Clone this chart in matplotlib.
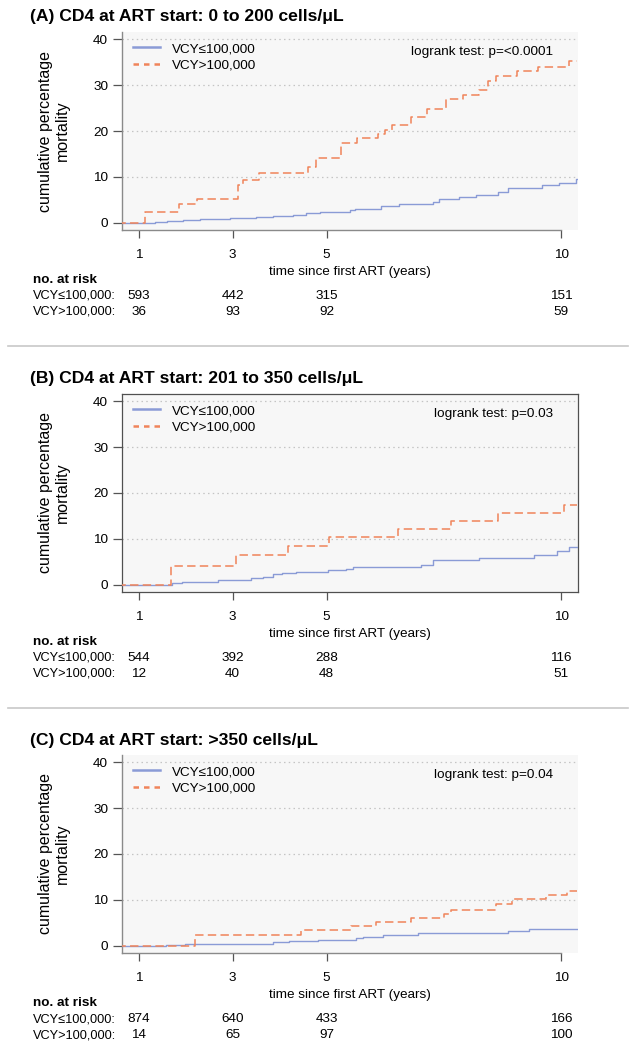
import matplotlib
matplotlib.use('Agg')
import matplotlib.pyplot as plt
from matplotlib.lines import Line2D
from matplotlib import transforms

plt.rcParams['font.family'] = ['Liberation Sans', 'DejaVu Sans']

# ---------------- data ----------------
groups = ['VCY≤100,000', 'VCY>100,000']
panel_titles = ['(A) CD4 at ART start: 0 to 200 cells/μL',
                '(B) CD4 at ART start: 201 to 350 cells/μL',
                '(C) CD4 at ART start: >350 cells/μL']
pvalue_texts = ['logrank test: p=<0.0001', 'logrank test: p=0.03', 'logrank test: p=0.04']

risk_times = [1, 3, 5, 10]
risk_low_A = [593, 442, 315, 151]
risk_high_A = [36, 93, 92, 59]
risk_low_B = [544, 392, 288, 116]
risk_high_B = [12, 40, 48, 51]
risk_low_C = [874, 640, 433, 166]
risk_high_C = [14, 65, 97, 100]

A_low_t = [0, 1.34, 1.59, 1.94, 2.30, 2.94, 3.50, 3.86, 4.28, 4.57, 4.85, 5.49, 5.60,
           6.16, 6.55, 7.26, 7.40, 7.83, 8.18, 8.65, 8.86, 9.60, 9.96, 10.31, 10.34]
A_low_v = [0, 0.15, 0.35, 0.6, 0.8, 1.1, 1.3, 1.45, 1.75, 2.1, 2.35, 2.7, 3.06,
           3.6, 4.15, 4.45, 5.1, 5.6, 6.1, 6.7, 7.5, 8.15, 8.75, 9.5, 9.5]
A_high_t = [0, 1.14, 1.85, 2.23, 3.11, 3.22, 3.55, 4.60, 4.78, 5.30, 5.65, 6.10, 6.25,
            6.40, 6.80, 7.15, 7.55, 7.90, 8.25, 8.45, 8.62, 9.07, 9.50, 10.17, 10.34]
A_high_v = [0, 2.3, 4.0, 5.2, 8.2, 9.2, 10.9, 12.1, 14.0, 17.4, 18.4, 19.3, 20.3,
            21.2, 23.0, 24.9, 26.9, 27.9, 29.0, 31.0, 32.0, 33.0, 34.0, 35.2, 35.2]

B_low_t = [0, 1.70, 1.91, 2.69, 3.0, 3.40, 3.65, 3.86, 4.04, 4.35, 5.03, 5.42, 5.56,
           7.01, 7.26, 8.26, 9.43, 9.92, 10.17, 10.34]
B_low_v = [0, 0.36, 0.65, 0.95, 1.1, 1.4, 1.6, 2.25, 2.55, 2.85, 3.1, 3.4, 3.85,
           4.35, 5.3, 5.8, 6.5, 7.4, 8.3, 8.3]
B_high_t = [0, 1.68, 3.08, 4.18, 5.05, 6.52, 7.65, 8.65, 10.06, 10.34]
B_high_v = [0, 4.0, 6.4, 8.5, 10.4, 12.1, 14.0, 15.6, 17.4, 17.4]

C_low_t = [0, 1.58, 1.98, 3.86, 4.21, 4.82, 5.62, 5.77, 6.20, 6.94, 8.86, 9.32, 10.34]
C_low_v = [0, 0.15, 0.36, 0.87, 1.1, 1.24, 1.75, 1.96, 2.4, 2.7, 3.1, 3.55, 3.55]
C_high_t = [0, 2.19, 4.46, 5.52, 6.06, 6.80, 7.50, 7.65, 8.61, 8.96, 9.67, 10.13, 10.34]
C_high_v = [0, 2.4, 3.5, 4.4, 5.2, 6.0, 6.9, 7.8, 9.2, 10.1, 11.0, 11.9, 11.9]

y_ticks = [0, 10, 20, 30, 40]
x_ticks = [1, 3, 5, 10]

# ---------------- style ----------------
W, H = 636, 1050
BLUE = '#8a9bd6'
ORANGE = '#f0845a'
BG = '#f7f7f7'
GRID = '#c4c4c4'
SPINE = '#8a8a8a'
TICKC = '#555555'
FS = 9.7
FS_TAB = 9.2

fig = plt.figure(figsize=(W / 100, H / 100), dpi=100)

panels = [
    (A_low_t, A_low_v, A_high_t, A_high_v, risk_low_A, risk_high_A, False),
    (B_low_t, B_low_v, B_high_t, B_high_v, risk_low_B, risk_high_B, True),
    (C_low_t, C_low_v, C_high_t, C_high_v, risk_low_C, risk_high_C, False),
]
offsets = [0, 362, 723]

def fy(py):
    return 1 - py / H

for i, (lt, lv, ht, hv, rl, rh, boxed) in enumerate(panels):
    off = offsets[i]
    ax = fig.add_axes([122 / W, fy(230 + off), 456 / W, 198 / H])
    ax.set_facecolor(BG)
    ax.set_xlim(0.64, 10.36)
    ax.set_ylim(-1.6, 41.6)
    for yv in y_ticks[1:]:
        ax.axhline(yv, color=GRID, lw=0.9, ls=(0, (1.2, 2.6)), zorder=1)
    ax.step(lt, lv, where='post', color=BLUE, lw=1.0, zorder=3)
    ax.step(ht, hv, where='post', color=ORANGE, lw=1.1, ls=(0, (5.5, 2.8)), zorder=4)

    ax.set_xticks(x_ticks)
    ax.set_xticklabels([str(t) for t in x_ticks])
    ax.set_yticks(y_ticks)
    ax.tick_params(axis='x', length=6, width=0.9, color=TICKC, pad=8, labelsize=FS)
    ax.tick_params(axis='y', length=6.5, width=0.9, color=TICKC, pad=3.5, labelsize=FS)

    if boxed:
        for s in ax.spines.values():
            s.set_color('#505050')
            s.set_linewidth(0.9)
    else:
        ax.spines['top'].set_visible(False)
        ax.spines['right'].set_visible(False)
        ax.spines['left'].set_color(SPINE)
        ax.spines['bottom'].set_color(SPINE)
        ax.spines['left'].set_linewidth(1.0)
        ax.spines['bottom'].set_linewidth(1.0)
        ax.spines['bottom'].set_bounds(0.64, 10)

    handles = [Line2D([], [], color=BLUE, lw=1.8),
               Line2D([], [], color=ORANGE, lw=1.8, ls=(0, (2.2, 2.0)))]
    ax.legend(handles, groups, loc='upper left', bbox_to_anchor=(0, 1),
              frameon=False, fontsize=FS, handlelength=2.0, handletextpad=0.9,
              labelspacing=0.3, borderpad=0.8, borderaxespad=0)

    ax.text(0.945, (230 - 52) / 198, pvalue_texts[i], transform=ax.transAxes,
            ha='right', va='center', fontsize=FS)

    # titles and labels
    fig.text(30 / W, fy(17 + off), panel_titles[i], fontsize=12.6, fontweight='bold',
             ha='left', va='center')
    fig.text(54 / W, fy(131 + off), 'cumulative percentage\nmortality', rotation=90,
             ha='center', va='center', multialignment='center', fontsize=11.5,
             linespacing=1.1)
    fig.text(350 / W, fy(272 + off), 'time since first ART (years)', ha='center',
             va='center', fontsize=FS)

    # number at risk table
    tr = transforms.blended_transform_factory(ax.transData, fig.transFigure)
    fig.text(33 / W, fy(280 + off), 'no. at risk', fontweight='bold', fontsize=FS,
             ha='left', va='center')
    fig.text(33 / W, fy(296 + off), groups[0] + ':', fontsize=FS_TAB, ha='left', va='center')
    fig.text(33 / W, fy(312 + off), groups[1] + ':', fontsize=FS_TAB, ha='left', va='center')
    for t, n1, n2 in zip(risk_times, rl, rh):
        ax.text(t, fy(296 + off), str(n1), transform=tr, ha='center', va='center',
                fontsize=FS, clip_on=False)
        ax.text(t, fy(312 + off), str(n2), transform=tr, ha='center', va='center',
                fontsize=FS, clip_on=False)

# separators
for sy in [346, 708]:
    fig.add_artist(Line2D([8 / W, 628 / W], [fy(sy), fy(sy)], color='#c8c8c8', lw=1.2))

fig.savefig('out.png', dpi=100, facecolor='white')
